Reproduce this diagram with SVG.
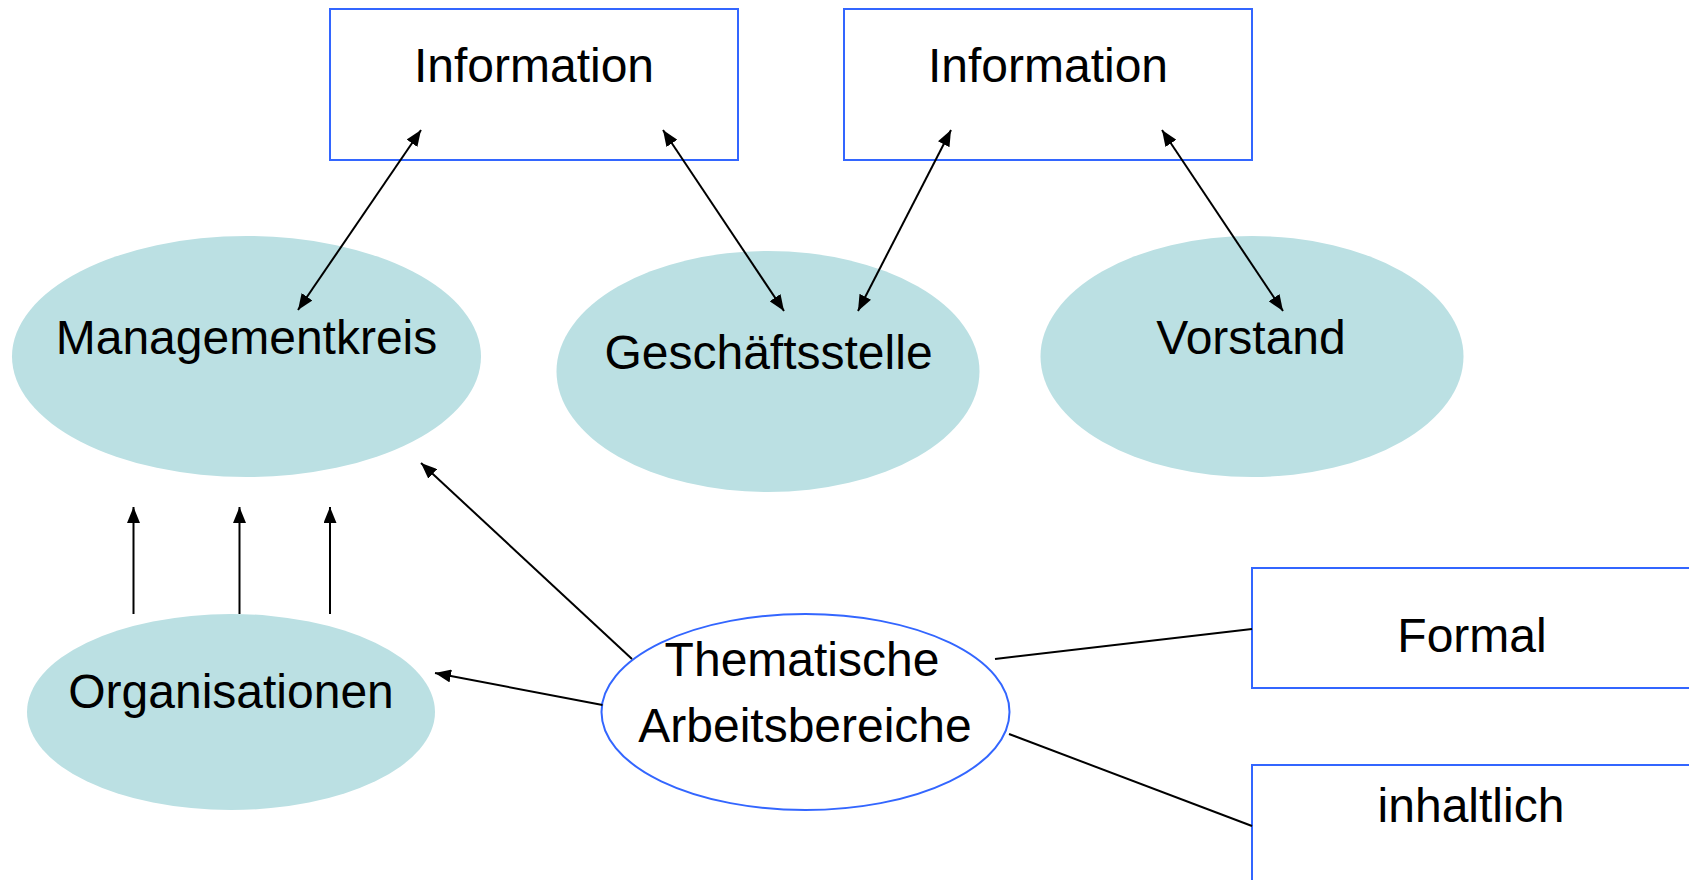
<svg xmlns="http://www.w3.org/2000/svg" width="1689" height="880" viewBox="0 0 1689 880">
<style>
.box{fill:#FFFFFF;stroke:#3366FF;stroke-width:2}
.ell{fill:#BBE0E3;stroke:none}
.ellb{fill:#FFFFFF;stroke:#3366FF;stroke-width:2}
.t{font-family:"Liberation Sans",Arial,sans-serif;font-size:48px;fill:#000000;text-anchor:middle}
.c{stroke:#000000;stroke-width:2;fill:none}
.a{marker-end:url(#ah)}
.d{marker-start:url(#ah);marker-end:url(#ah)}
</style>
<defs>
<marker id="ah" viewBox="0 0 16 13" refX="16" refY="6.5" markerWidth="16" markerHeight="13" markerUnits="userSpaceOnUse" orient="auto-start-reverse">
<path d="M0,0 L16,6.5 L0,13 z" fill="#000000"/>
</marker>
</defs>
<rect width="1689" height="880" fill="#FFFFFF"/>
<g id="info1"><rect class="box" x="330" y="9" width="408" height="151"/><text class="t" x="534" y="82">Information</text></g>
<g id="info2"><rect class="box" x="844" y="9" width="408" height="151"/><text class="t" x="1048" y="82">Information</text></g>
<g id="managementkreis"><ellipse class="ell" cx="246.5" cy="356.5" rx="234.5" ry="120.5"/><text class="t" x="246.5" y="354">Managementkreis</text></g>
<g id="geschaeftsstelle"><ellipse class="ell" cx="768" cy="371.5" rx="211.5" ry="120.5"/><text class="t" x="768.5" y="369">Geschäftsstelle</text></g>
<g id="vorstand"><ellipse class="ell" cx="1252" cy="356.5" rx="211.5" ry="120.5"/><text class="t" x="1251" y="354">Vorstand</text></g>
<g id="organisationen"><ellipse class="ell" cx="231" cy="712" rx="204" ry="98"/><text class="t" x="231" y="708">Organisationen</text></g>
<g id="thematische"><ellipse class="ellb" cx="805.5" cy="712" rx="204" ry="98"/><text class="t" x="802" y="676">Thematische</text><text class="t" x="805" y="742">Arbeitsbereiche</text></g>
<g id="formal"><rect class="box" x="1252" y="568" width="450" height="120"/><text class="t" x="1472" y="652">Formal</text></g>
<g id="inhaltlich"><rect class="box" x="1252" y="765" width="450" height="140"/><text class="t" x="1471" y="822">inhaltlich</text></g>
<g id="connectors">
<line class="c d" x1="421" y1="130" x2="298" y2="310"/>
<line class="c d" x1="663" y1="130" x2="784" y2="311"/>
<line class="c d" x1="951" y1="130" x2="858" y2="311"/>
<line class="c d" x1="1162" y1="130" x2="1283" y2="311"/>
<line class="c a" x1="133.5" y1="614" x2="133.5" y2="507"/>
<line class="c a" x1="239.5" y1="614" x2="239.5" y2="507"/>
<line class="c a" x1="330" y1="614" x2="330" y2="507"/>
<line class="c a" x1="632" y1="659" x2="421" y2="463"/>
<line class="c a" x1="602.5" y1="705" x2="435" y2="673"/>
<line class="c" x1="995" y1="659" x2="1252" y2="629"/>
<line class="c" x1="1009" y1="734" x2="1252" y2="826"/>
</g>
</svg>
